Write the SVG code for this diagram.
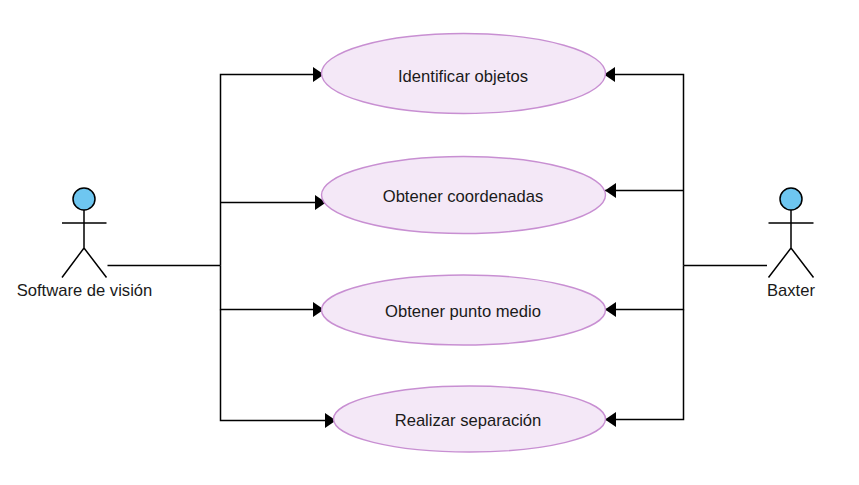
<svg xmlns="http://www.w3.org/2000/svg" width="859" height="485" viewBox="0 0 859 485">
<style>
.uc{fill:#f4e8f7;stroke:#c88fd2;stroke-width:1.4}
.t{font-family:"Liberation Sans",Arial,sans-serif;font-size:16.6px;fill:#1a1a1a;text-anchor:middle}
.l{fill:none;stroke:#000;stroke-width:1.5}
.h{fill:#6ec6f0;stroke:#000;stroke-width:1.5}
</style>
<defs>
<marker id="a" markerUnits="userSpaceOnUse" markerWidth="12" markerHeight="16" refX="11" refY="7.500" orient="auto"><path d="M0 0L11 7.500L0 15Z" fill="#000"/></marker>
</defs>
<rect width="859" height="485" fill="#fff"/>
<g id="connectors" class="l">
<path d="M107.500 265.500H220.500"/>
<path d="M220.500 265.500V74.500H324" marker-end="url(#a)"/>
<path d="M220.500 202.500H326" marker-end="url(#a)"/>
<path d="M220.500 265.500V309.500H324" marker-end="url(#a)"/>
<path d="M220.500 309.500V420.500H336" marker-end="url(#a)"/>
<path d="M767 265.500H683.500"/>
<path d="M683.500 265.500V74.500H604" marker-end="url(#a)"/>
<path d="M683.500 190.500H605" marker-end="url(#a)"/>
<path d="M683.500 265.500V309.500H605" marker-end="url(#a)"/>
<path d="M683.500 309.500V419.500H605" marker-end="url(#a)"/>
</g>
<g id="uc1"><ellipse class="uc" cx="463.500" cy="73.500" rx="142" ry="40"/><text class="t" x="463" y="82">Identificar objetos</text></g>
<g id="uc2"><ellipse class="uc" cx="463.500" cy="195" rx="142" ry="38.500"/><text class="t" x="463" y="201.500">Obtener coordenadas</text></g>
<g id="uc3"><ellipse class="uc" cx="463.500" cy="310" rx="142" ry="35"/><text class="t" x="463" y="317">Obtener punto medio</text></g>
<g id="uc4"><ellipse class="uc" cx="469.500" cy="419" rx="136" ry="33"/><text class="t" x="468" y="426">Realizar separación</text></g>
<g id="actor1" class="l">
<circle class="h" cx="84" cy="199" r="11"/>
<path d="M84 210V248M62 223H106.500M62 277.500L84 248L106.500 277.500"/>
<text class="t" x="84.500" y="296" stroke="none">Software de visión</text>
</g>
<g id="actor2" class="l">
<circle class="h" cx="791" cy="199" r="11"/>
<path d="M791 210V248M768.500 223H813.500M768.500 277.500L791 248L813.500 277.500"/>
<text class="t" x="791" y="296" stroke="none">Baxter</text>
</g>
</svg>
